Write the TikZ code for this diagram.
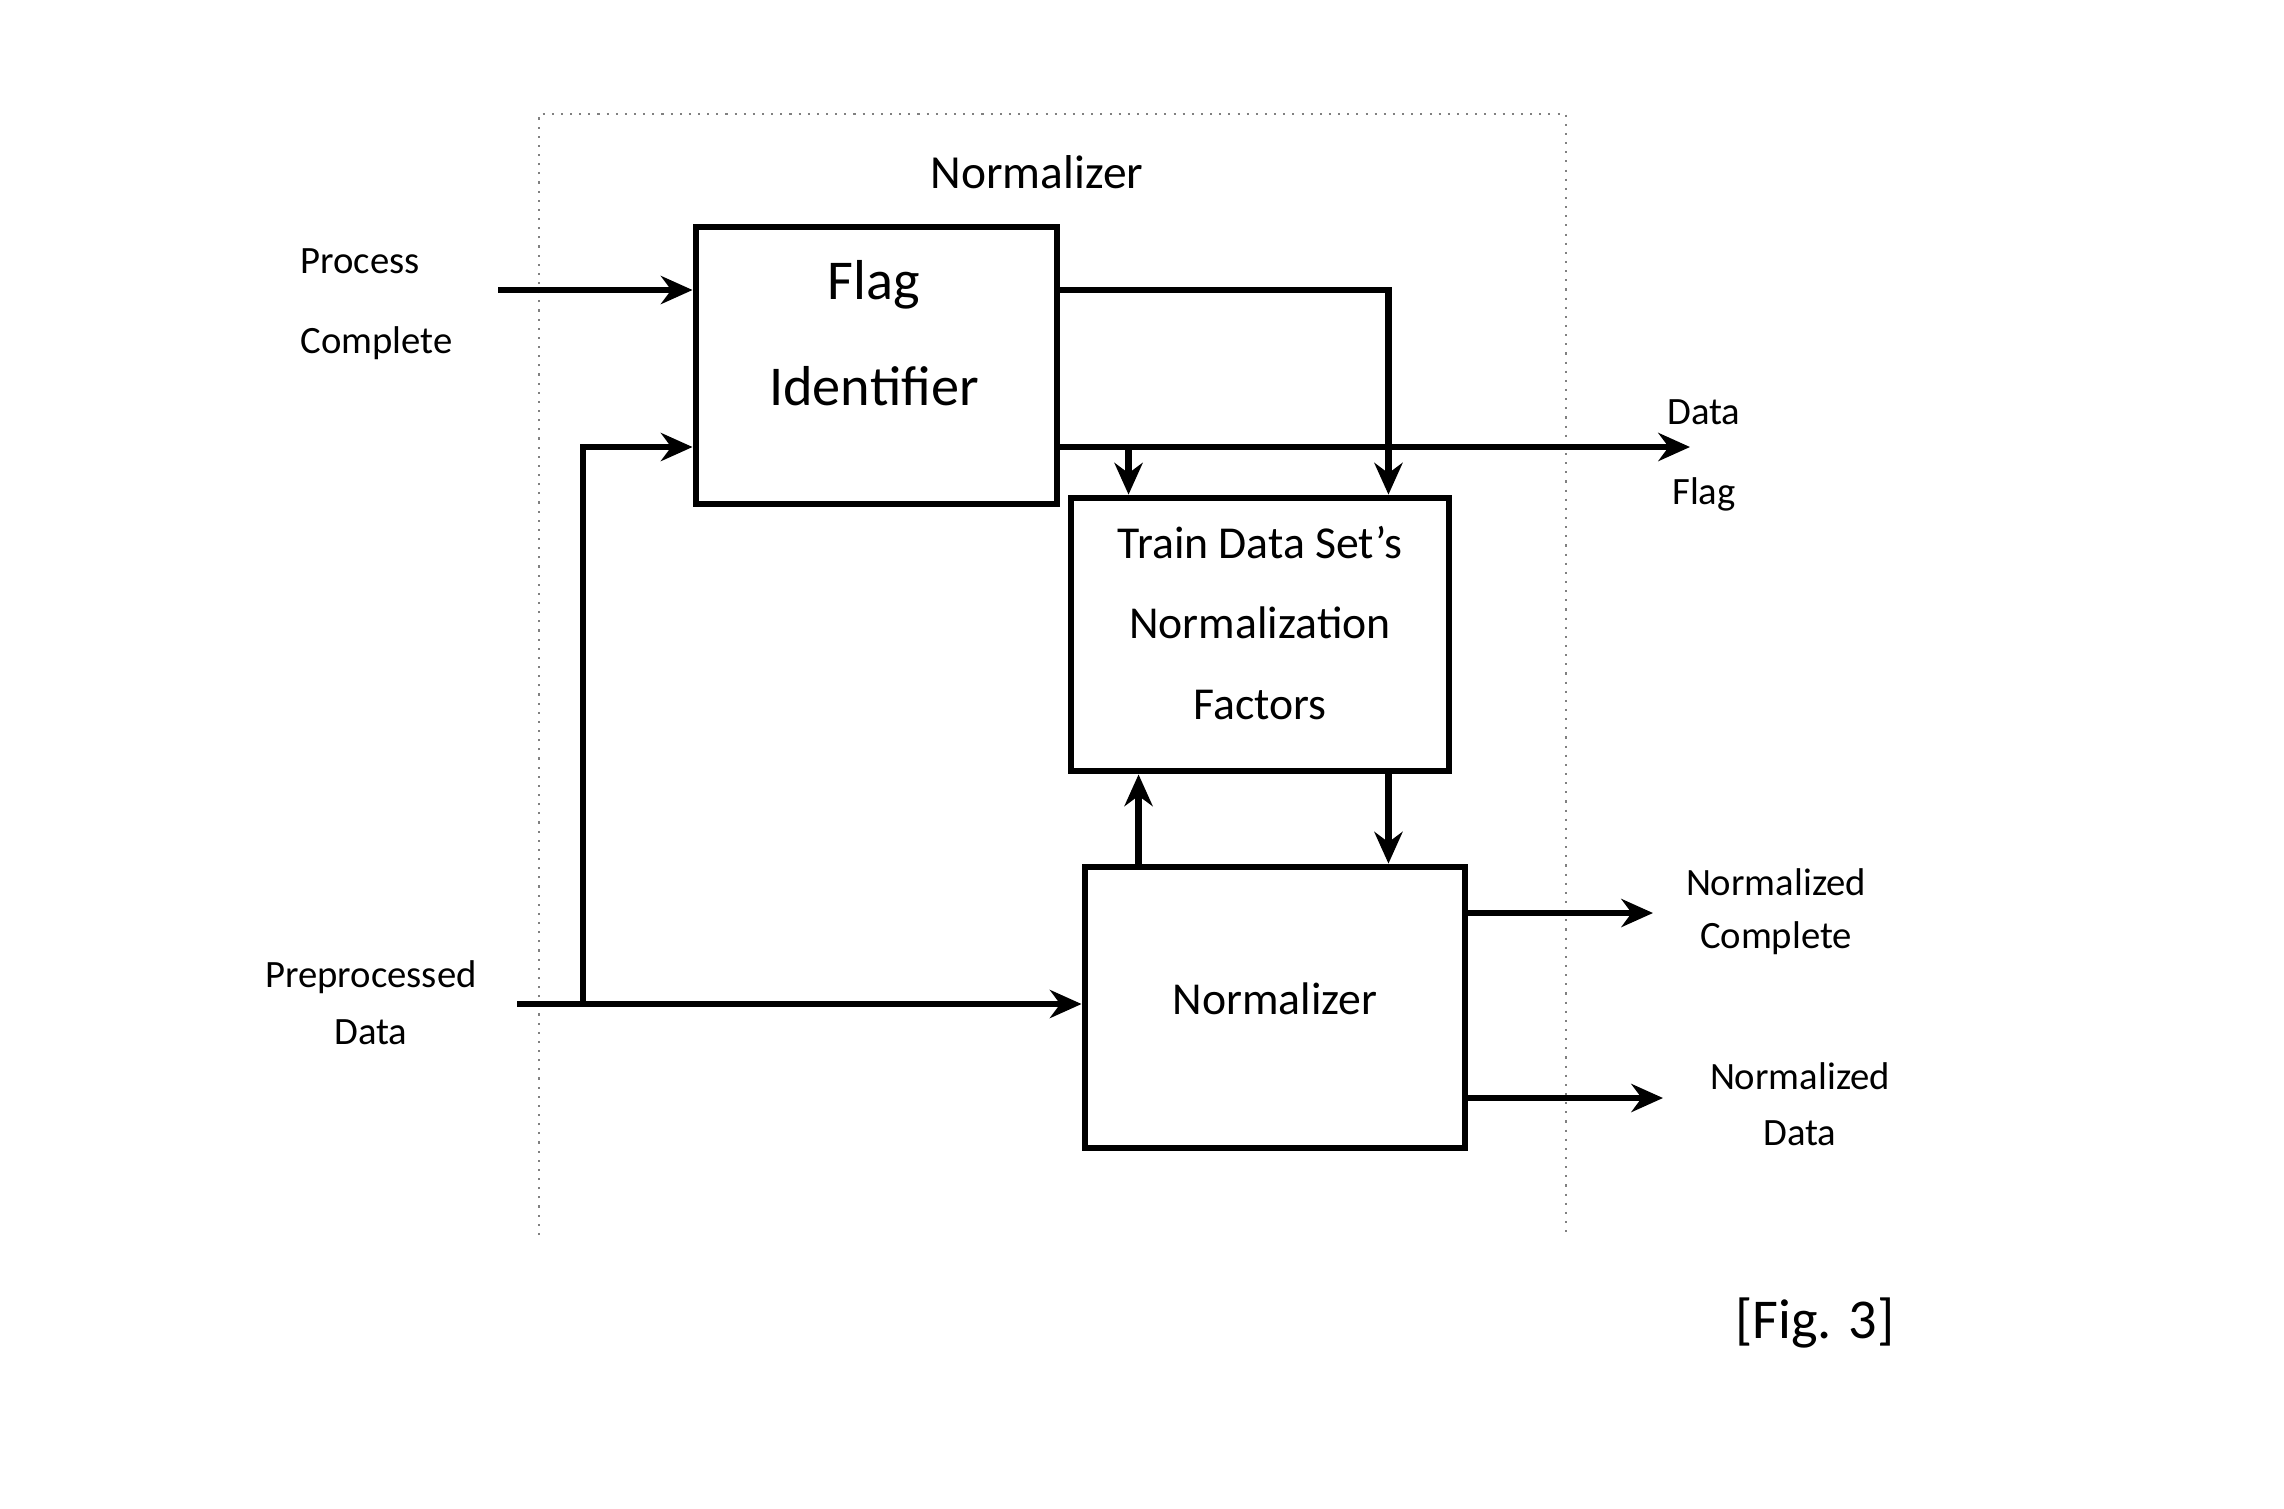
\documentclass[tikz,border=0pt]{standalone}
\usepackage{fontspec}
\setmainfont{Carlito}
\usetikzlibrary{arrows.meta,calc}
\begin{document}
\begin{tikzpicture}[x=0.01cm,y=-0.01cm,
  box/.style={draw,line width=1.9pt,inner sep=0pt},
  conn/.style={line width=1.9pt},
  arr/.style={conn,-{Stealth[length=9pt,width=8pt]}},
  lbl/.style={align=center,inner sep=0pt,font=\fontsize{11}{22.8}\selectfont},
  inner/.style={align=center,inner sep=0pt,font=\fontsize{13}{22.8}\selectfont},
  frame/.style={draw=gray,dotted,line width=0.6pt}]
\useasboundingbox (0,0) rectangle (2284,1508);
% dotted enclosure (open at the bottom)
\draw[frame] (539,1235) -- (539,114) -- (1566,114) -- (1566,1235);
\node[inner,font=\fontsize{13.5}{22.8}\selectfont] (title) at (1037,172) {Normalizer};
% boxes
\node[box,minimum width=3.61cm,minimum height=2.77cm] (flag) at (876.5,365.5) {};
\node[box,minimum width=3.78cm,minimum height=2.73cm] (train) at (1260,634.5) {};
\node[box,minimum width=3.80cm,minimum height=2.81cm] (norm) at (1275,1007.5) {};
% box texts
\node[align=center,inner sep=0pt,font=\fontsize{16}{30}\selectfont] (flagtxt) at (874,333) {Flag\\Identifier};
\node[inner] (traintxt) at (1260,623) {Train Data Set's\\Normalization\\Factors};
\node[inner] (normtxt) at (1275,999) {Normalizer};
% outside labels
\node[lbl,align=left,anchor=west] (pclbl) at (300,304) {Process\\Complete};
\node[lbl,font=\fontsize{11}{16.2}\selectfont] (pplbl) at (371,1003) {Preprocessed\\Data};
\node[lbl] (dflbl) at (1704,455) {Data\\Flag};
\node[lbl,font=\fontsize{11}{15}\selectfont] (nclbl) at (1776,912) {Normalized\\Complete};
\node[lbl,font=\fontsize{11}{16}\selectfont] (ndlbl) at (1800,1104) {Normalized\\Data};
\node[inner sep=0pt,font=\fontsize{16}{20}\selectfont] (fig) at (1815,1323) {[Fig. 3]};
% coordinates
\coordinate (pcin) at (498,290);
\coordinate (ppin) at (517,1004);
\coordinate (ppsplit) at (583,1004);
\coordinate (dfy) at (1690,447);
\coordinate (tA) at ($(train.north west)+(61,0)$);
\coordinate (tB) at ($(train.north east)+(-64,0)$);
\coordinate (tC) at ($(train.south east)+(-64,0)$);
\coordinate (nA) at ($(norm.north west)+(57,0)$);
\coordinate (nc) at (1653,913);
\coordinate (nd) at (1663,1098);
% connectors
\draw[arr] (pcin) -- (pcin -| flag.west);
\draw[arr] (ppin) -- (ppin -| norm.west);
\draw[arr] (ppsplit) |- (flag.west |- dfy);
\draw[arr] (flag.east |- pcin) -| (tB);
\draw[arr] (flag.east |- dfy) -- (dfy);
\draw[arr] (tA |- dfy) -- (tA);
\draw[arr] (nA) -- (nA |- train.south);
\draw[arr] (tC) -- (tC |- norm.north);
\draw[arr] (nc -| norm.east) -- (nc);
\draw[arr] (nd -| norm.east) -- (nd);
\end{tikzpicture}
\end{document}
